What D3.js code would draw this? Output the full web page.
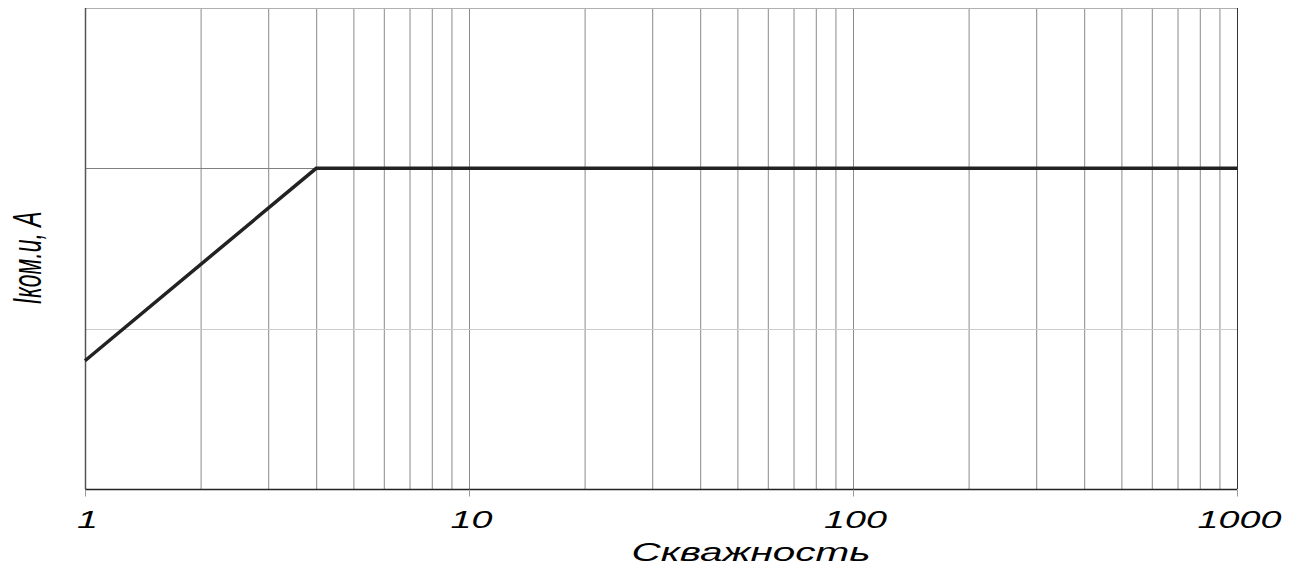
<!DOCTYPE html>
<html><head><meta charset="utf-8">
<script src="https://cdn.jsdelivr.net/npm/d3@7"></script>
<style>body{margin:0;background:#fff}svg{display:block}</style>
</head><body>
<svg id="c" width="1306" height="568"></svg>
<script>
const xDuty = [1, 4, 1000];
const yCurrent = [0.8, 2, 2];
const xTickLabels = [1, 10, 100, 1000];
const yGridValues = [1, 2];
const xTitle = "Скважность";
const yTitle = "Iком.и, А";

const svg = d3.select("#c");
const m = {l: 85, r: 1237, t: 8, b: 489};
const x = d3.scaleLog().domain([1, 1000]).range([m.l, m.r]);
const y = d3.scaleLinear().domain([0, 3]).range([m.b, m.t]);
const FONT = "Liberation Sans, Arial, sans-serif";

// minor vertical grid
const gridVals = [];
for (let d = 1; d < 1000; d *= 10) for (let k = 1; k <= 9; k++) gridVals.push(d * k);
svg.append("g").selectAll("line").data(gridVals.filter(v => v > 1 && v < 1000)).join("line")
  .attr("x1", d => x(d) + 0.5).attr("x2", d => x(d) + 0.5)
  .attr("y1", m.t).attr("y2", m.b)
  .attr("stroke", "#8a8a8a").attr("stroke-width", 1);

// horizontal grid
svg.append("g").selectAll("line").data(yGridValues).join("line")
  .attr("x1", m.l).attr("x2", m.r)
  .attr("y1", d => Math.round(y(d)) + 0.5).attr("y2", d => Math.round(y(d)) + 0.5)
  .attr("stroke", d => d === 2 ? "#808080" : "#cccccc").attr("stroke-width", 1);

// frame
svg.append("line").attr("x1", m.l).attr("x2", m.r).attr("y1", m.t + 0.5).attr("y2", m.t + 0.5).attr("stroke", "#b0b0b0");
svg.append("line").attr("x1", m.l + 0.5).attr("x2", m.l + 0.5).attr("y1", m.t).attr("y2", m.b).attr("stroke", "#555").attr("stroke-width", 1.5);
svg.append("line").attr("x1", m.r + 0.5).attr("x2", m.r + 0.5).attr("y1", m.t).attr("y2", m.b).attr("stroke", "#333");

// bottom axis
const ax = svg.append("g").attr("transform", `translate(0,${m.b + 0.5})`)
  .call(d3.axisBottom(x).tickValues(xTickLabels).tickSize(7).tickFormat(d3.format("d")));
ax.select(".domain").attr("stroke", "#222").attr("stroke-width", 1.5).attr("d", `M${m.l},0H${m.r}`);
ax.selectAll(".tick line").attr("stroke", "#999");
ax.selectAll(".tick text").attr("y", null).attr("dy", null)
  .attr("transform", "translate(2,38) scale(1.57,1)")
  .attr("font-family", FONT).attr("font-style", "italic")
  .attr("font-size", 24).attr("fill", "#000")
  .attr("text-anchor", "middle");

// line
svg.append("path")
  .datum(xDuty.map((d, i) => [d, yCurrent[i]]))
  .attr("d", d3.line().x(d => x(d[0])).y(d => y(d[1])))
  .attr("fill", "none").attr("stroke", "#222").attr("stroke-width", 3.5);

// titles
svg.append("text").attr("transform", "translate(751,561) scale(1.62,1)").attr("text-anchor", "middle")
  .attr("font-family", FONT).attr("font-style", "italic")
  .attr("font-size", 25).attr("fill", "#000").text(xTitle);

svg.append("text").attr("transform", "translate(41,258) rotate(-90) scale(0.56,1)")
  .attr("text-anchor", "middle")
  .attr("font-family", FONT).attr("font-style", "italic")
  .attr("font-size", 41).attr("fill", "#000").text(yTitle);
</script>
</body></html>
